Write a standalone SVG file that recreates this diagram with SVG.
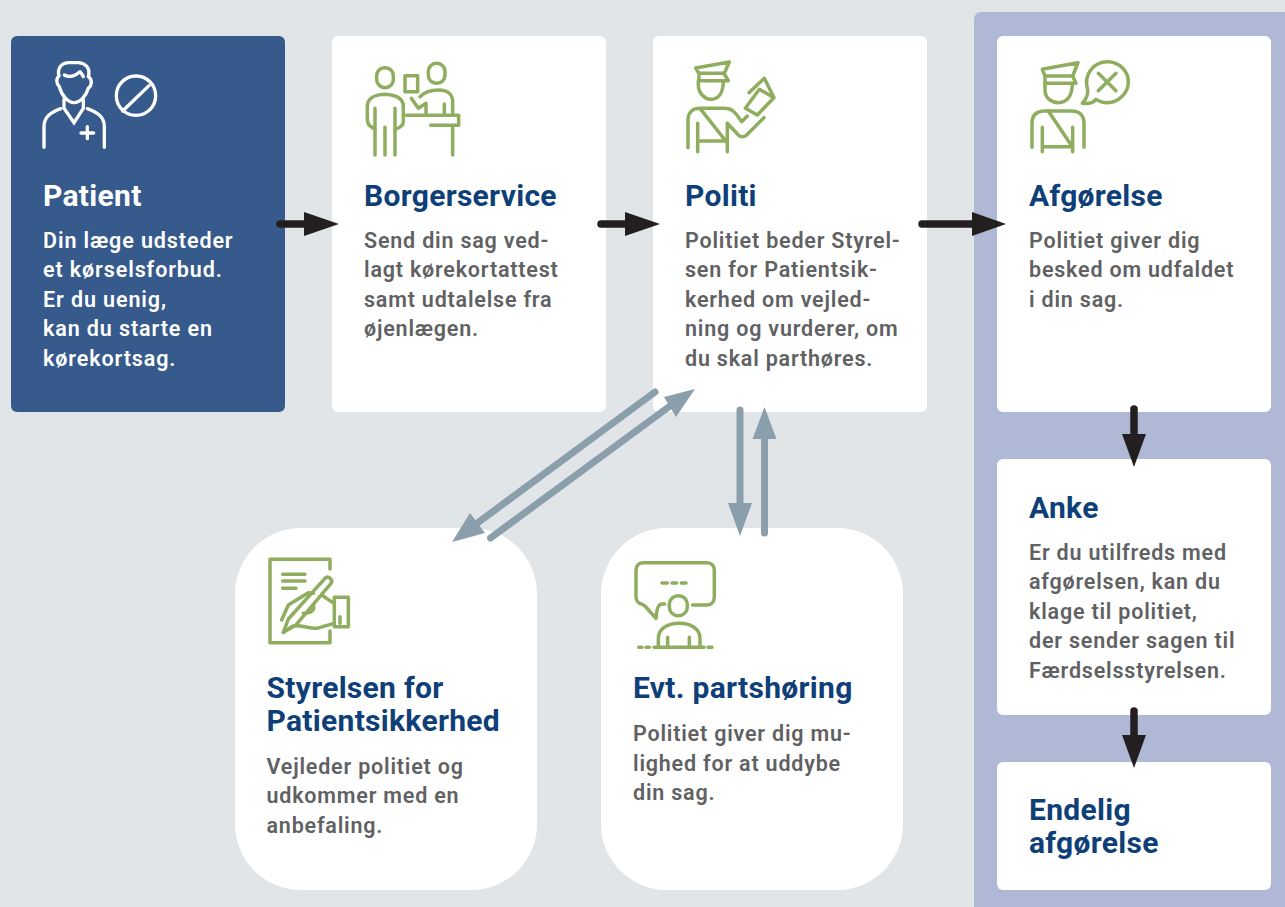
<svg xmlns="http://www.w3.org/2000/svg" width="1285" height="907" viewBox="0 0 1285 907">
<style>
.h{font:700 30px Roboto,"Liberation Sans",sans-serif;fill:#0f3f78;letter-spacing:.3px}
.b{font:600 21.500px Roboto,"Liberation Sans",sans-serif;fill:#5f6163;letter-spacing:.8px}
.card{fill:#fff}
.ic{fill:none;stroke:#8fad5f;stroke-width:10.500;stroke-linecap:round;stroke-linejoin:round}
.bk{stroke:#231f20;stroke-width:7.500;stroke-linecap:round;fill:none}
.gr{stroke:#8a9fab;stroke-width:7;stroke-linecap:round;fill:none}
</style>
<rect width="1285" height="907" fill="#e1e5e8"/>
<rect x="974" y="12" width="330" height="920" rx="7" fill="#afb9d6"/>

<g id="patient">
<rect x="11" y="36" width="274" height="376" rx="6" fill="#365a8c"/>
<g transform="translate(0,30) scale(.3333)" fill="none" stroke="#fff" stroke-width="10" stroke-linecap="round" stroke-linejoin="round">
<path d="M178,170C168,160 168,145 177,138C172,118 180,100 205,98L235,98C258,100 272,115 265,140C277,148 277,165 265,175C258,198 240,218 222,218C205,218 185,198 178,170Z"/>
<path d="M193,135C210,145 230,135 240,125C245,130 247,135 250,140"/>
<path d="M192,208V235L222,278L250,235V208" stroke-linejoin="miter"/>
<path d="M132,352V290C132,262 150,248 182,236M262,236C295,248 313,262 313,290V352"/>
<path d="M243,309H281M262,290V326"/>
<circle cx="408" cy="197" r="59"/>
<path d="M368,243L447,167"/>
</g>
<text class="h" style="fill:#fff" x="43" y="206">Patient</text>
<text class="b" style="fill:#fff;letter-spacing:.9px" x="43" y="248">Din læge udsteder</text>
<text class="b" style="fill:#fff;letter-spacing:.9px" x="43" y="277">et kørselsforbud.</text>
<text class="b" style="fill:#fff;letter-spacing:.9px" x="43" y="307">Er du uenig,</text>
<text class="b" style="fill:#fff;letter-spacing:.9px" x="43" y="336">kan du starte en</text>
<text class="b" style="fill:#fff;letter-spacing:.9px" x="43" y="366">kørekortsag.</text>
</g>

<g id="borgerservice">
<rect class="card" x="332" y="36" width="274" height="376" rx="6"/>
<g class="ic" transform="translate(340,40) scale(.3333)">
<rect x="110" y="83" width="50" height="60" rx="24"/>
<path d="M105,345V205M165,345V205M135,345V262"/>
<path d="M105,268L90,258C83,253 82,245 82,235V200C82,175 100,165 135,163C170,165 190,175 190,200V245C190,255 180,263 165,268"/>
<rect x="195" y="107" width="38" height="48"/>
<rect x="265" y="70" width="50" height="60" rx="24"/>
<path d="M214,175L235,205L258,190V225"/>
<path d="M240,170C255,155 270,150 295,150C325,150 340,165 338,190V225M313,192V225"/>
<path d="M200,226H356V256H272M338,256V345"/>
</g>
<text class="h" x="364" y="206">Borgerservice</text>
<text class="b" x="364" y="248">Send din sag ved-</text>
<text class="b" x="364" y="277">lagt kørekortattest</text>
<text class="b" x="364" y="307">samt udtalelse fra</text>
<text class="b" x="364" y="336">øjenlægen.</text>
</g>

<g id="politi">
<rect class="card" x="653" y="36" width="274" height="376" rx="6"/>
<g class="ic" transform="translate(670,40) scale(.3333)">
<path d="M77,84L178,66L163,100H87L77,84ZM87,100V122H175L163,102"/>
<path d="M85,122V135C85,160 105,178 122,178C145,178 160,160 160,122"/>
<path d="M54,323V240C54,215 70,205 90,205H165C185,205 195,215 215,245L232,228"/>
<path d="M90,205L165,300M83,250V335M83,303H168M172,250V335"/>
<path d="M172,250L205,285C212,292 222,292 230,285L282,233"/>
<path d="M226,205L262,225L312,173L268,148L226,205ZM237,158L283,115L312,173"/>
</g>
<text class="h" x="685" y="206">Politi</text>
<text class="b" x="685" y="248">Politiet beder Styrel-</text>
<text class="b" x="685" y="277">sen for Patientsik-</text>
<text class="b" x="685" y="307">kerhed om vejled-</text>
<text class="b" x="685" y="336">ning og vurderer, om</text>
<text class="b" x="685" y="366">du skal parthøres.</text>
</g>

<g id="afgorelse">
<rect class="card" x="997" y="36" width="274" height="376" rx="6"/>
<g class="ic" transform="translate(1010,40) scale(.3333)">
<path d="M97,88L204,68L188,108H105L97,88ZM105,108V130H198L188,108"/>
<path d="M105,130V150C105,175 125,188 145,188C170,188 187,170 187,130"/>
<path d="M66,322V250C66,225 80,213 105,213H185C210,213 222,228 222,250V322"/>
<path d="M115,213L188,322M97,262V335M97,320H188M188,262V335"/>
<path d="M233,150C218,100 255,65 292,65C330,65 355,95 355,125C355,160 325,188 292,188C278,188 268,185 258,178C250,188 235,192 217,190C228,178 235,168 233,150Z"/>
<path d="M265,100L318,152M318,100L265,152"/>
</g>
<text class="h" x="1029" y="206">Afgørelse</text>
<text class="b" x="1029" y="248">Politiet giver dig</text>
<text class="b" x="1029" y="277">besked om udfaldet</text>
<text class="b" x="1029" y="307">i din sag.</text>
</g>

<g id="anke">
<rect class="card" x="997" y="459" width="274" height="256" rx="6"/>
<text class="h" x="1029" y="518">Anke</text>
<text class="b" x="1029" y="560">Er du utilfreds med</text>
<text class="b" x="1029" y="589">afgørelsen, kan du</text>
<text class="b" x="1029" y="619">klage til politiet,</text>
<text class="b" x="1029" y="648">der sender sagen til</text>
<text class="b" x="1029" y="678">Færdselsstyrelsen.</text>
</g>

<g id="endelig">
<rect class="card" x="997" y="762" width="274" height="128" rx="6"/>
<text class="h" x="1029" y="820">Endelig</text>
<text class="h" x="1029" y="853">afgørelse</text>
</g>

<g id="styrelsen">
<rect class="card" x="235" y="528" width="302" height="362" rx="66"/>
<g class="ic" transform="translate(250,545) scale(.3333)">
<path d="M240,72V43H60V293H240V258"/>
<path d="M98,88H165M98,108H165M98,130H138"/>
<rect x="253" y="157" width="42" height="88"/>
<path d="M270,215V235"/>
<path d="M100,262L115,222L225,100C235,90 250,105 243,115L138,240Z"/>
<path d="M95,225L115,180L175,143L190,145M215,150L252,175M252,235L200,250C170,250 140,235 125,245L100,262M190,180C195,195 185,205 160,205"/>
</g>
<text class="h" x="266.500" y="698">Styrelsen for</text>
<text class="h" x="266.500" y="731">Patientsikkerhed</text>
<text class="b" x="266.500" y="774">Vejleder politiet og</text>
<text class="b" x="266.500" y="803">udkommer med en</text>
<text class="b" x="266.500" y="833">anbefaling.</text>
</g>

<g id="partshoring">
<rect class="card" x="601" y="528" width="302" height="362" rx="66"/>
<g class="ic" transform="translate(620,550) scale(.3333)">
<path d="M134,162H125C115,162 110,175 108,205L75,168L65,162C55,160 48,150 48,140V60C48,45 58,38 70,38H260C275,38 283,48 283,60V140C283,155 275,165 260,165H218"/>
<path d="M126,99H142M156,99H170M184,99H198"/>
<rect x="148" y="137" width="54" height="60" rx="26"/>
<path d="M115,292V265C115,235 145,220 178,220C210,220 240,235 240,265V292M143,262V292M208,262V292"/>
<path d="M102,292H252M56,292H66M78,292H88M264,292H276"/>
</g>
<text class="h" x="633" y="698">Evt. partshøring</text>
<text class="b" x="633" y="741">Politiet giver dig mu-</text>
<text class="b" x="633" y="771">lighed for at uddybe</text>
<text class="b" x="633" y="800">din sag.</text>
</g>

<g id="connectors">
<path class="bk" d="M280,224H310M601,224H630M922,224H978M1134,409V440M1134,711V740"/>
<g fill="#231f20">
<polygon points="339,224 304,212 304,236"/>
<polygon points="660,224 625,212 625,236"/>
<polygon points="1006,224 972,212 972,236"/>
<polygon points="1134,467 1122,434 1146,434"/>
<polygon points="1134,768 1122,735 1146,735"/>
</g>
<path class="gr" d="M655,392L476,524M490.500,538L670,406M740,410V510M764.500,533V432"/>
<g fill="#8a9fab">
<polygon points="452,542 470,513 485,533"/>
<polygon points="695,389 664,397 676,417"/>
<polygon points="740,536 728,503 752,503"/>
<polygon points="764.500,407 752.500,439 776.500,439"/>
</g>
</g>
</svg>
